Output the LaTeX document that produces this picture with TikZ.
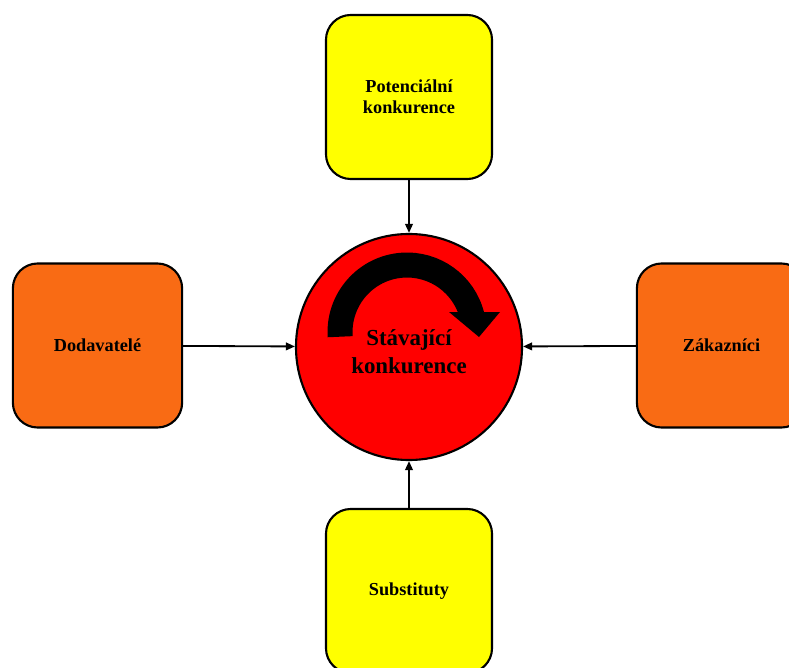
\documentclass[tikz,border=0pt]{standalone}
\usepackage{fontspec}
\setmainfont{Liberation Serif}
\usepackage{xcolor}
\usetikzlibrary{arrows.meta}

\definecolor{boxyellow}{HTML}{FFFF00}
\definecolor{boxorange}{HTML}{F96B14}
\definecolor{circred}{HTML}{FF0000}

\tikzset{
  force/.style={draw=black, line width=1.5pt, rounded corners=0.62cm,
    minimum width=4.15cm, minimum height=4.1cm, align=center,
    font=\bfseries\fontsize{13}{14.7}\selectfont},
  rival/.style={circle, draw=black, line width=1.5pt, fill=circred,
    minimum size=5.65cm, align=center, text height=38pt,
    font=\bfseries\fontsize{16.3}{20}\selectfont},
  push/.style={-{Triangle[length=6.5pt,width=5.5pt]}, line width=1.3pt}
}

\begin{document}
\begin{tikzpicture}[x=0.025cm, y=0.025cm]
    \clip (0,0) rectangle (789,667);

    %% middle
    \node[rival] (stavajici) at (409,320) {St\'avaj\'ic\'i\\konkurence};
    \draw[black, line width=0.625cm] (340.2,330.3) arc (184:14:67);
    \fill[black] (449,355) -- (500,355) -- (479,330) -- cycle;

    %% forces
    \node[force, fill=boxyellow] (potencialni) at (409,570) {Potenci\'aln\'i\\konkurence};
    \node[force, fill=boxorange, minimum width=4.23cm] (dodavatele) at (97.5,321.5) {Dodavatel\'e};
    \node[force, fill=boxorange, minimum width=4.23cm] (zakaznici) at (721.5,321.5) {Z\'akazn\'ici};
    \node[force, fill=boxyellow] (substituty) at (409,76) {Substituty};

    %% arrows
    \draw[push] (potencialni) -- (stavajici);
    \draw[push] (dodavatele) -- (stavajici);
    \draw[push] (zakaznici) -- (stavajici);
    \draw[push] (substituty) -- (stavajici);

\end{tikzpicture}
\end{document}
